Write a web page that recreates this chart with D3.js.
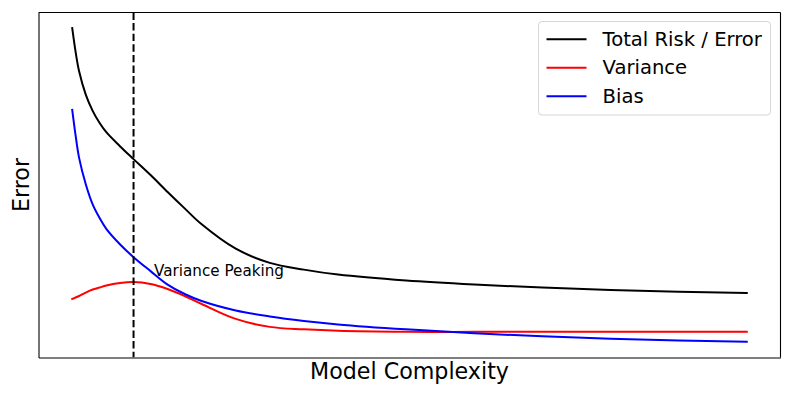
<!DOCTYPE html>
<html>
<head>
<meta charset="utf-8">
<script src="https://cdn.jsdelivr.net/npm/d3@7"></script>
<style>
  html, body { margin: 0; padding: 0; background: #fff; }
  svg { display: block; font-family: "DejaVu Sans", sans-serif; }
</style>
</head>
<body>
<svg id="chart" width="793" height="397"></svg>
<script>
// ---- data ----
const complexity = [0.1, 0.15, 0.2, 0.3, 0.4, 0.5, 0.6, 0.8, 1.0, 1.25, 1.5, 1.75, 2.0, 2.5, 3.0, 3.5, 4.0, 5.0, 6.0, 7.0, 8.0, 9.0, 10.0];
const totalError = [3.25, 3.01, 2.82, 2.58, 2.42, 2.30, 2.205, 2.065, 1.935, 1.775, 1.605, 1.44, 1.28, 1.035, 0.893, 0.825, 0.775, 0.715, 0.675, 0.645, 0.62, 0.603, 0.59];
const variance   = [0.53, 0.545, 0.56, 0.595, 0.625, 0.645, 0.665, 0.69, 0.70, 0.68, 0.63, 0.56, 0.48, 0.33, 0.25, 0.225, 0.21, 0.20, 0.20, 0.20, 0.20, 0.20, 0.20];
const bias       = [2.43, 2.17, 1.95, 1.68, 1.48, 1.345, 1.235, 1.08, 0.95, 0.81, 0.675, 0.58, 0.51, 0.415, 0.355, 0.31, 0.275, 0.225, 0.185, 0.155, 0.13, 0.113, 0.10];
const seriesNames = ["Total Risk / Error", "Variance", "Bias"];
const seriesColors = ["#000000", "#ff0000", "#0000ff"];
const peakX = 1.0;
const annotationText = "Variance Peaking";
const annotationPos = [1.3, 0.76];
const xLabel = "Model Complexity";
const yLabel = "Error";

// ---- layout ----
const svg = d3.select("#chart");
const L = 38.5, R = 780.5, T = 12.5, B = 357.5;

const xMin = d3.min(complexity), xMax = d3.max(complexity);
const xPad = (xMax - xMin) * 0.05;
const allY = totalError.concat(variance, bias);
const yMin = d3.min(allY), yMax = d3.max(allY);
const yPad = (yMax - yMin) * 0.05;

const x = d3.scaleLinear().domain([xMin - xPad, xMax + xPad]).range([L, R]);
const y = d3.scaleLinear().domain([yMin - yPad, yMax + yPad]).range([B, T]);

const seriesValues = [totalError, variance, bias];

const line = d3.line()
  .x(d => x(d[0]))
  .y(d => y(d[1]))
  .curve(d3.curveCatmullRom.alpha(0.5));

// clip
svg.append("defs").append("clipPath").attr("id", "clip")
  .append("rect").attr("x", L).attr("y", T).attr("width", R - L).attr("height", B - T);

const plot = svg.append("g").attr("clip-path", "url(#clip)");

seriesValues.forEach((vals, i) => {
  plot.append("path")
    .datum(complexity.map((c, j) => [c, vals[j]]))
    .attr("fill", "none")
    .attr("stroke", seriesColors[i])
    .attr("stroke-width", 2)
    .attr("stroke-linecap", "square")
    .attr("stroke-linejoin", "round")
    .attr("d", line);
});

// dashed vertical line at variance peak
plot.append("line")
  .attr("x1", x(peakX)).attr("x2", x(peakX))
  .attr("y1", T).attr("y2", B)
  .attr("stroke", "#000")
  .attr("stroke-width", 2)
  .attr("stroke-dasharray", "7.4,3.2");

// annotation
svg.append("text")
  .attr("x", x(annotationPos[0]))
  .attr("y", y(annotationPos[1]))
  .attr("font-size", "15.2px")
  .attr("fill", "#000")
  .text(annotationText);

// axes frame (no ticks)
const xAxis = d3.axisBottom(x).tickValues([]).tickSizeOuter(0);
const yAxis = d3.axisLeft(y).tickValues([]).tickSizeOuter(0);
svg.append("g").attr("transform", `translate(0,${B})`).call(xAxis)
  .select(".domain").attr("stroke", "#000").attr("stroke-width", 1.1);
svg.append("g").attr("transform", `translate(${L},0)`).call(yAxis)
  .select(".domain").attr("stroke", "#000").attr("stroke-width", 1.1);
svg.append("line").attr("x1", L).attr("x2", R).attr("y1", T).attr("y2", T)
  .attr("stroke", "#000").attr("stroke-width", 1.1);
svg.append("line").attr("x1", R).attr("x2", R).attr("y1", T).attr("y2", B)
  .attr("stroke", "#000").attr("stroke-width", 1.1);

// axis labels
svg.append("text")
  .attr("x", (L + R) / 2).attr("y", 379)
  .attr("text-anchor", "middle")
  .attr("font-size", "22.2px")
  .text(xLabel);
svg.append("text")
  .attr("transform", `translate(29,${(T + B) / 2}) rotate(-90)`)
  .attr("text-anchor", "middle")
  .attr("font-size", "22.2px")
  .text(yLabel);

// legend
const lg = svg.append("g");
lg.append("rect")
  .attr("x", 538.5).attr("y", 21.5)
  .attr("width", 232).attr("height", 93.5)
  .attr("rx", 3.5).attr("ry", 3.5)
  .attr("fill", "#fff").attr("fill-opacity", 0.8)
  .attr("stroke", "#d6d6d6").attr("stroke-width", 1);
const rowY = [39.3, 67.8, 96.3];
seriesNames.forEach((name, i) => {
  lg.append("line")
    .attr("x1", 546.5).attr("x2", 586.5)
    .attr("y1", rowY[i]).attr("y2", rowY[i])
    .attr("stroke", seriesColors[i]).attr("stroke-width", 2);
  lg.append("text")
    .attr("x", 602.5).attr("y", rowY[i] + 6.3)
    .attr("font-size", "19.6px")
    .text(name);
});
</script>
</body>
</html>
